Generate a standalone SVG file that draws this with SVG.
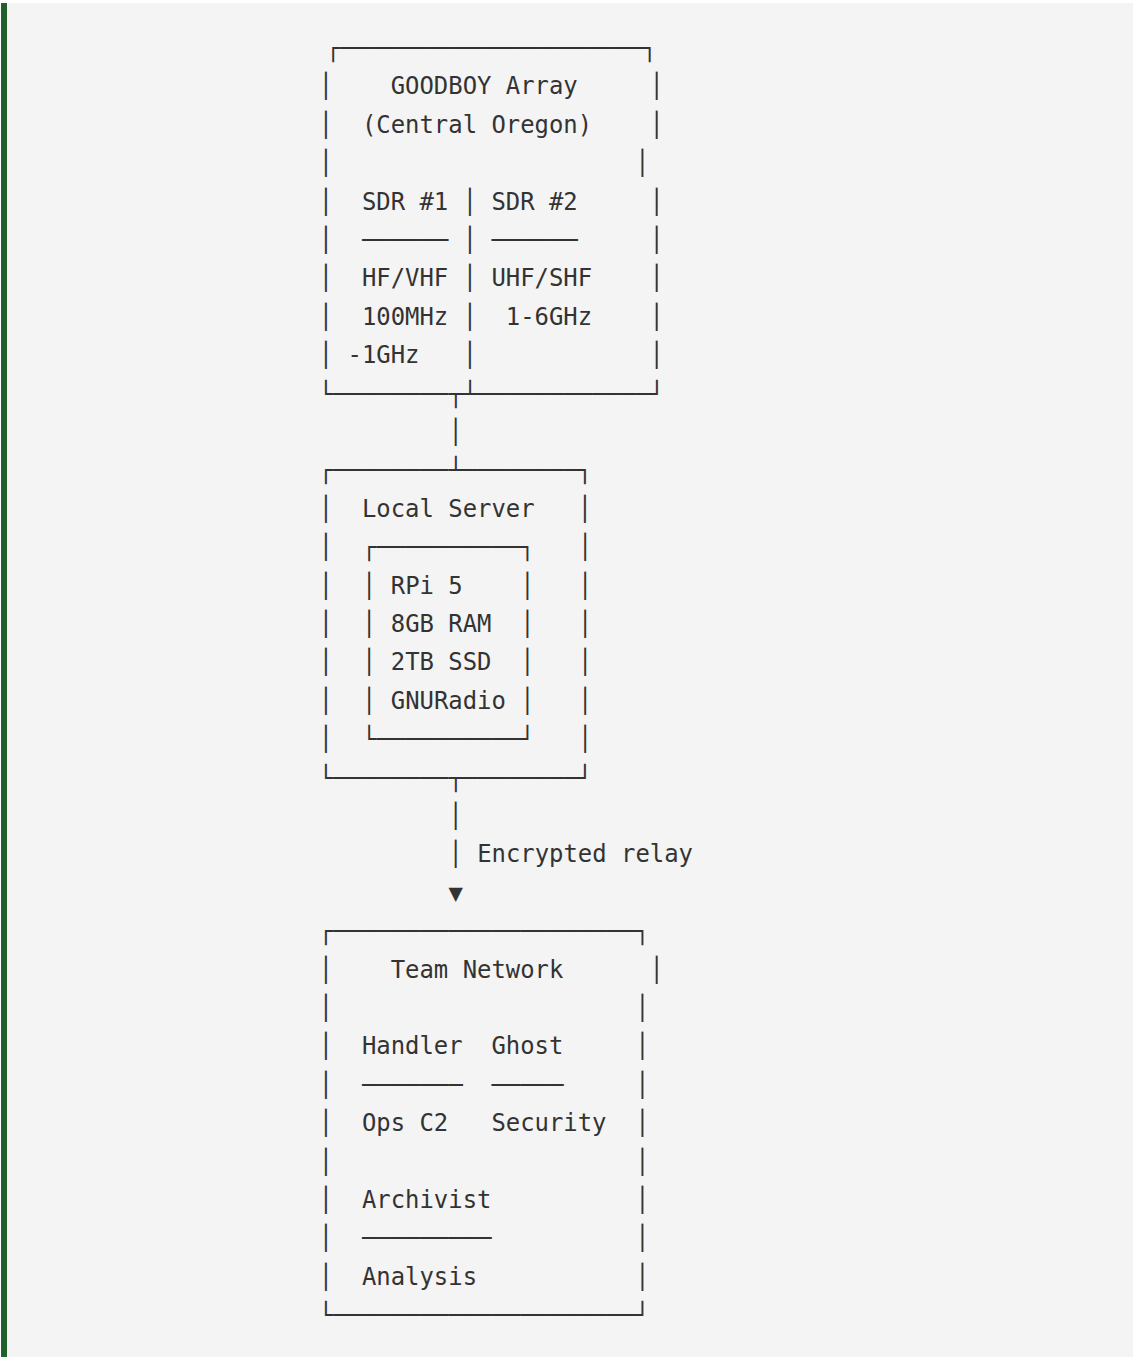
<svg xmlns="http://www.w3.org/2000/svg" width="1133" height="1357" viewBox="0 0 1133 1357" xml:space="preserve">
<style>
  .t { font-family: "DejaVu Sans Mono", "Liberation Mono", monospace; font-size: 23.9px; fill: #333333; white-space: pre; }
</style>
<rect x="0" y="0" width="1133" height="1357" fill="#ffffff"/>
<rect x="1" y="3" width="1132" height="1354" fill="#f4f4f4"/>
<rect x="1" y="3" width="6" height="1354" fill="#21602a"/>

<g id="node-goodboy-array">
  <text class="t" x="326" y="55.9">┌─────────────────────┐</text>
  <text class="t" x="318.8" y="94.3">│    GOODBOY Array     │</text>
  <text class="t" x="318.8" y="132.7">│  (Central Oregon)    │</text>
  <text class="t" x="318.8" y="171.1">│                     │</text>
  <text class="t" x="318.8" y="209.5">│  SDR #1 │ SDR #2     │</text>
  <text class="t" x="318.8" y="247.9">│  ────── │ ──────     │</text>
  <text class="t" x="318.8" y="286.3">│  HF/VHF │ UHF/SHF    │</text>
  <text class="t" x="318.8" y="324.7">│  100MHz │  1-6GHz    │</text>
  <text class="t" x="318.8" y="363.1">│ -1GHz   │            │</text>
  <text class="t" x="318.8" y="401.5">└────────</text>
  <text class="t" x="462.8" y="401.5">┴────────────┘</text>
</g>

<g id="node-local-server">
  <text class="t" x="318.8" y="478.3">┌────────</text>
  <text class="t" x="462.8" y="478.3">────────┐</text>
  <text class="t" x="318.8" y="516.7">│  Local Server   │</text>
  <text class="t" x="318.8" y="555.1">│</text><text class="t" x="578" y="555.1">│</text>
  <text class="t" x="318.8" y="593.5">│</text><text class="t" x="578" y="593.5">│</text>
  <text class="t" x="318.8" y="631.9">│</text><text class="t" x="578" y="631.9">│</text>
  <text class="t" x="318.8" y="670.3">│</text><text class="t" x="578" y="670.3">│</text>
  <text class="t" x="318.8" y="708.7">│</text><text class="t" x="578" y="708.7">│</text>
  <text class="t" x="318.8" y="747.1">│</text><text class="t" x="578" y="747.1">│</text>
  <text class="t" x="318.8" y="785.5">└────────</text>
  <text class="t" x="462.8" y="785.5">────────┘</text>
  <g id="node-rpi">
    <text class="t" x="362" y="555.1">┌──────────┐</text>
    <text class="t" x="362" y="593.5">│ RPi 5    │</text>
    <text class="t" x="362" y="631.9">│ 8GB RAM  │</text>
    <text class="t" x="362" y="670.3">│ 2TB SSD  │</text>
    <text class="t" x="362" y="708.7">│ GNURadio │</text>
    <text class="t" x="362" y="747.1">└──────────┘</text>
  </g>
</g>

<g id="node-team-network">
  <text class="t" x="318.8" y="939.1">┌─────────────────────┐</text>
  <text class="t" x="318.8" y="977.5">│    Team Network      │</text>
  <text class="t" x="318.8" y="1015.9">│                     │</text>
  <text class="t" x="318.8" y="1054.3">│  Handler  Ghost     │</text>
  <text class="t" x="318.8" y="1092.7">│  ───────  ─────     │</text>
  <text class="t" x="318.8" y="1131.1">│  Ops C2   Security  │</text>
  <text class="t" x="318.8" y="1169.5">│                     │</text>
  <text class="t" x="318.8" y="1207.9">│  Archivist          │</text>
  <text class="t" x="318.8" y="1246.3">│  ─────────          │</text>
  <text class="t" x="318.8" y="1284.7">│  Analysis           │</text>
  <text class="t" x="318.8" y="1323.1">└─────────────────────┘</text>
</g>

<g id="connectors">
  <g id="edge-array-to-server">
    <text class="t" x="448.4" y="401.5">┬</text>
    <text class="t" x="448.4" y="439.9">│</text>
    <text class="t" x="448.4" y="478.3">┴</text>
  </g>
  <g id="edge-server-to-team">
    <text class="t" x="448.4" y="785.5">┬</text>
    <text class="t" x="448.4" y="823.9">│</text>
    <text class="t" x="448.4" y="862.3">│</text>
    <text class="t" x="477.2" y="862.3">Encrypted relay</text>
    <text class="t" x="448.4" y="900.7">▼</text>
  </g>
</g>
</svg>
